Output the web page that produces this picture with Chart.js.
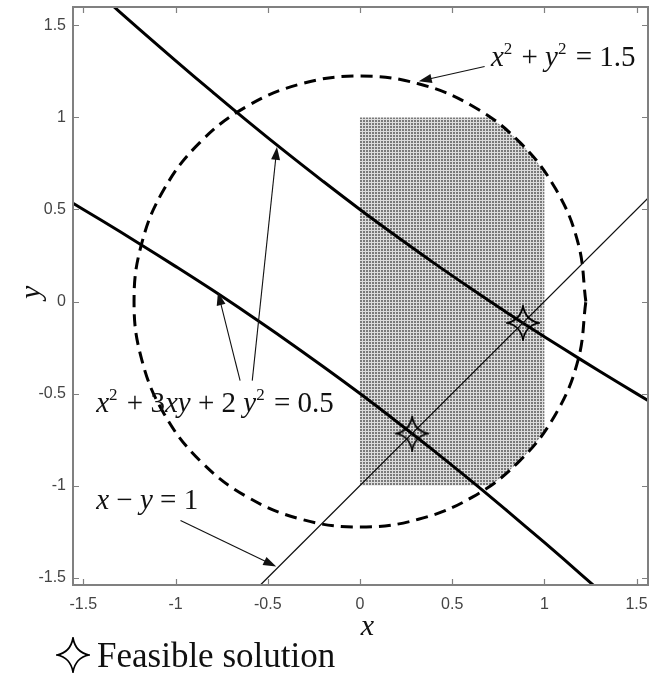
<!DOCTYPE html>
<html>
<head>
<meta charset="utf-8">
<script src="https://cdn.jsdelivr.net/npm/chart.js@4.4.1/dist/chart.umd.min.js"></script>
<style>
  html, body { margin: 0; padding: 0; background: #fff; }
  #wrap { width: 653px; height: 683px; }
</style>
</head>
<body>
<div id="wrap"><canvas id="chart"></canvas></div>
<script>
// tick labels
const xTicks = [-1.5, -1, -0.5, 0, 0.5, 1, 1.5];
const yTicks = [-1.5, -1, -0.5, 0, 0.5, 1, 1.5];

// x^2 + y^2 = 1.5
const circlePts = [
  [1.225, 0], [1.183, 0.317], [1.061, 0.612], [0.866, 0.866], [0.612, 1.061], [0.317, 1.183],
  [0, 1.225], [-0.317, 1.183], [-0.612, 1.061], [-0.866, 0.866], [-1.061, 0.612], [-1.183, 0.317],
  [-1.225, 0], [-1.183, -0.317], [-1.061, -0.612], [-0.866, -0.866], [-0.612, -1.061], [-0.317, -1.183],
  [0, -1.225], [0.317, -1.183], [0.612, -1.061], [0.866, -0.866], [1.061, -0.612], [1.183, -0.317],
  [1.225, 0]
];

// x^2 + 3xy + 2y^2 = 0.5, upper branch
const upperPts = [
  [-1.4, 1.660], [-1.2, 1.483], [-1.0, 1.309], [-0.8, 1.139], [-0.6, 0.972], [-0.4, 0.810],
  [-0.2, 0.653], [0, 0.5], [0.2, 0.353], [0.4, 0.210], [0.6, 0.072], [0.8, -0.062],
  [1.0, -0.191], [1.2, -0.317], [1.4, -0.440], [1.6, -0.560]
];

// lower branch
const lowerPts = [
  [-1.6, 0.560], [-1.4, 0.440], [-1.2, 0.317], [-1.0, 0.191], [-0.8, 0.062], [-0.6, -0.072],
  [-0.4, -0.210], [-0.2, -0.353], [0, -0.5], [0.2, -0.653], [0.4, -0.810], [0.6, -0.972],
  [0.8, -1.139], [1.0, -1.309], [1.2, -1.483], [1.4, -1.660]
];

// x - y = 1
const linePts = [[-0.6, -1.6], [1.6, 0.6]];

// shaded region: 0<=x<=1, -1<=y<=1, inside the circle
const regionPts = [
  [0, -1], [0.707, -1], [0.787, -0.938], [0.866, -0.866], [0.938, -0.787], [1, -0.707],
  [1, 0.707], [0.938, 0.787], [0.866, 0.866], [0.787, 0.938], [0.707, 1], [0, 1], [0, -1]
];

// feasible solutions
const solutionPts = [[0.884, -0.116], [0.283, -0.717]];

const toXY = pts => pts.map(p => ({ x: p[0], y: p[1] }));

const SERIF = '"Liberation Serif", "Times New Roman", serif';

// hatch pattern for the region
const tile = document.createElement('canvas');
tile.width = 3; tile.height = 3;
(function () {
  const t = tile.getContext('2d');
  t.fillStyle = '#dcdcdc';
  t.fillRect(0, 0, 3, 3);
  t.fillStyle = '#7a7a7a';
  t.fillRect(0, 0, 2, 2);
})();
const hatch = tile.getContext('2d').createPattern(tile, 'repeat');

// four pointed star marker
function makeStar(w, h) {
  const c = document.createElement('canvas');
  c.width = w; c.height = h;
  const g = c.getContext('2d');
  const cx = w / 2, cy = h / 2, rx = w / 2 - 1, ry = h / 2 - 1, k = 2.6;
  g.beginPath();
  g.moveTo(cx, cy - ry);
  g.quadraticCurveTo(cx + k, cy - k, cx + rx, cy);
  g.quadraticCurveTo(cx + k, cy + k, cx, cy + ry);
  g.quadraticCurveTo(cx - k, cy + k, cx - rx, cy);
  g.quadraticCurveTo(cx - k, cy - k, cx, cy - ry);
  g.closePath();
  g.strokeStyle = '#000';
  g.lineWidth = 1.7;
  g.stroke();
  return c;
}
const star = makeStar(34, 36);

function drawRich(ctx, x, y, parts, size) {
  ctx.save();
  ctx.fillStyle = '#111';
  ctx.textBaseline = 'alphabetic';
  ctx.textAlign = 'left';
  parts.forEach(([txt, kind]) => {
    let dy = 0, extra = 0;
    if (kind === 'i') ctx.font = 'italic ' + size + 'px ' + SERIF;
    else if (kind === 's') { ctx.font = Math.round(size * 0.6) + 'px ' + SERIF; dy = -size * 0.42; extra = 2; }
    else ctx.font = size + 'px ' + SERIF;
    ctx.fillText(txt, x, y + dy);
    x += ctx.measureText(txt).width + extra;
  });
  ctx.restore();
}

function arrow(ctx, x1, y1, x2, y2) {
  const a = Math.atan2(y2 - y1, x2 - x1), L = 13, W = 4.5;
  ctx.save();
  ctx.strokeStyle = '#111';
  ctx.fillStyle = '#111';
  ctx.lineWidth = 1.1;
  ctx.beginPath();
  ctx.moveTo(x1, y1);
  ctx.lineTo(x2 - L * 0.8 * Math.cos(a), y2 - L * 0.8 * Math.sin(a));
  ctx.stroke();
  ctx.beginPath();
  ctx.moveTo(x2, y2);
  ctx.lineTo(x2 - L * Math.cos(a) + W * Math.sin(a), y2 - L * Math.sin(a) - W * Math.cos(a));
  ctx.lineTo(x2 - L * Math.cos(a) - W * Math.sin(a), y2 - L * Math.sin(a) + W * Math.cos(a));
  ctx.closePath();
  ctx.fill();
  ctx.restore();
}

const decor = {
  id: 'decor',
  afterDatasetsDraw(chart) {
    const { ctx, chartArea: a, scales } = chart;
    const px = v => scales.x.getPixelForValue(v);
    const py = v => scales.y.getPixelForValue(v);

    // box with inward ticks
    ctx.save();
    ctx.strokeStyle = '#808080';
    ctx.lineWidth = 2;
    ctx.strokeRect(a.left, a.top, a.right - a.left, a.bottom - a.top);
    ctx.lineWidth = 1.2;
    ctx.beginPath();
    xTicks.forEach(v => {
      const x = Math.round(px(v)) + 0.5;
      ctx.moveTo(x, a.bottom); ctx.lineTo(x, a.bottom - 6);
      ctx.moveTo(x, a.top); ctx.lineTo(x, a.top + 6);
    });
    yTicks.forEach(v => {
      const y = Math.round(py(v)) + 0.5;
      ctx.moveTo(a.left, y); ctx.lineTo(a.left + 6, y);
      ctx.moveTo(a.right, y); ctx.lineTo(a.right - 6, y);
    });
    ctx.stroke();
    ctx.restore();

    // annotations
    arrow(ctx, px(0.676), py(1.277), px(0.319), py(1.196));
    arrow(ctx, px(-0.65), py(-0.43), px(-0.77), py(0.05));
    arrow(ctx, px(-0.584), py(-0.43), px(-0.45), py(0.84));
    arrow(ctx, px(-0.973), py(-1.19), px(-0.454), py(-1.44));

    drawRich(ctx, px(0.71), py(1.28), [['x', 'i'], ['2', 's'], [' + ', 'n'], ['y', 'i'], ['2', 's'], [' = 1.5', 'n']], 29);
    drawRich(ctx, px(-1.43), py(-0.6), [['x', 'i'], ['2', 's'], [' + 3', 'n'], ['xy', 'i'], [' + 2 ', 'n'], ['y', 'i'], ['2', 's'], [' = 0.5', 'n']], 29);
    drawRich(ctx, px(-1.43), py(-1.125), [['x', 'i'], [' \u2212 ', 'n'], ['y', 'i'], [' = 1', 'n']], 29);

    // axis titles
    ctx.save();
    ctx.fillStyle = '#111';
    ctx.font = 'italic 30px ' + SERIF;
    ctx.textAlign = 'center';
    ctx.textBaseline = 'middle';
    ctx.fillText('x', px(0.04), a.bottom + 42);
    ctx.translate(32, py(0.05));
    ctx.rotate(-Math.PI / 2);
    ctx.fillText('y', 0, 0);
    ctx.restore();

    // legend
    ctx.drawImage(star, 73 - star.width / 2, 655 - star.height / 2);
    ctx.save();
    ctx.fillStyle = '#111';
    ctx.font = '35px ' + SERIF;
    ctx.textBaseline = 'alphabetic';
    ctx.fillText('Feasible solution', 97, 667);
    ctx.restore();
  }
};

new Chart(document.getElementById('chart'), {
  type: 'scatter',
  data: {
    datasets: [
      {
        label: 'Feasible solution',
        data: toXY(solutionPts),
        pointStyle: star,
        pointRadius: 3,
        showLine: false,
        order: 0
      },
      {
        label: 'x - y = 1',
        data: toXY(linePts),
        showLine: true,
        borderColor: '#111',
        borderWidth: 1.3,
        pointRadius: 0,
        order: 1
      },
      {
        label: 'upper branch',
        data: toXY(upperPts),
        showLine: true,
        borderColor: '#000',
        borderWidth: 3,
        tension: 0.4,
        pointRadius: 0,
        order: 2
      },
      {
        label: 'lower branch',
        data: toXY(lowerPts),
        showLine: true,
        borderColor: '#000',
        borderWidth: 3,
        tension: 0.4,
        pointRadius: 0,
        order: 3
      },
      {
        label: 'circle',
        data: toXY(circlePts),
        showLine: true,
        borderColor: '#000',
        borderWidth: 3,
        borderDash: [12, 7],
        tension: 0.4,
        pointRadius: 0,
        order: 4
      },
      {
        label: 'region',
        data: toXY(regionPts),
        showLine: true,
        fill: 'shape',
        backgroundColor: hatch,
        borderWidth: 0,
        pointRadius: 0,
        order: 5
      }
    ]
  },
  options: {
    responsive: true,
    maintainAspectRatio: false,
    animation: false,
    layout: { padding: { top: 7, right: 1, left: 0, bottom: 0 } },
    plugins: {
      legend: { display: false },
      tooltip: { enabled: false }
    },
    scales: {
      x: {
        type: 'linear',
        min: -1.556,
        max: 1.562,
        afterBuildTicks: s => { s.ticks = xTicks.map(v => ({ value: v })); },
        afterFit: s => { s.height = 98; s.paddingLeft = 0; s.paddingRight = 0; },
        grid: { display: false, drawTicks: false },
        border: { display: false },
        ticks: {
          padding: 10,
          color: '#444',
          font: { family: '"Liberation Sans", Arial, sans-serif', size: 16 },
          callback: v => String(v)
        }
      },
      y: {
        type: 'linear',
        min: -1.54,
        max: 1.60,
        afterBuildTicks: s => { s.ticks = yTicks.map(v => ({ value: v })); },
        afterFit: s => { s.width = 73; s.paddingTop = 0; s.paddingBottom = 0; },
        grid: { display: false, drawTicks: false },
        border: { display: false },
        ticks: {
          padding: 7,
          color: '#444',
          font: { family: '"Liberation Sans", Arial, sans-serif', size: 16 },
          callback: v => String(v)
        }
      }
    }
  },
  plugins: [decor]
});
</script>
</body>
</html>
